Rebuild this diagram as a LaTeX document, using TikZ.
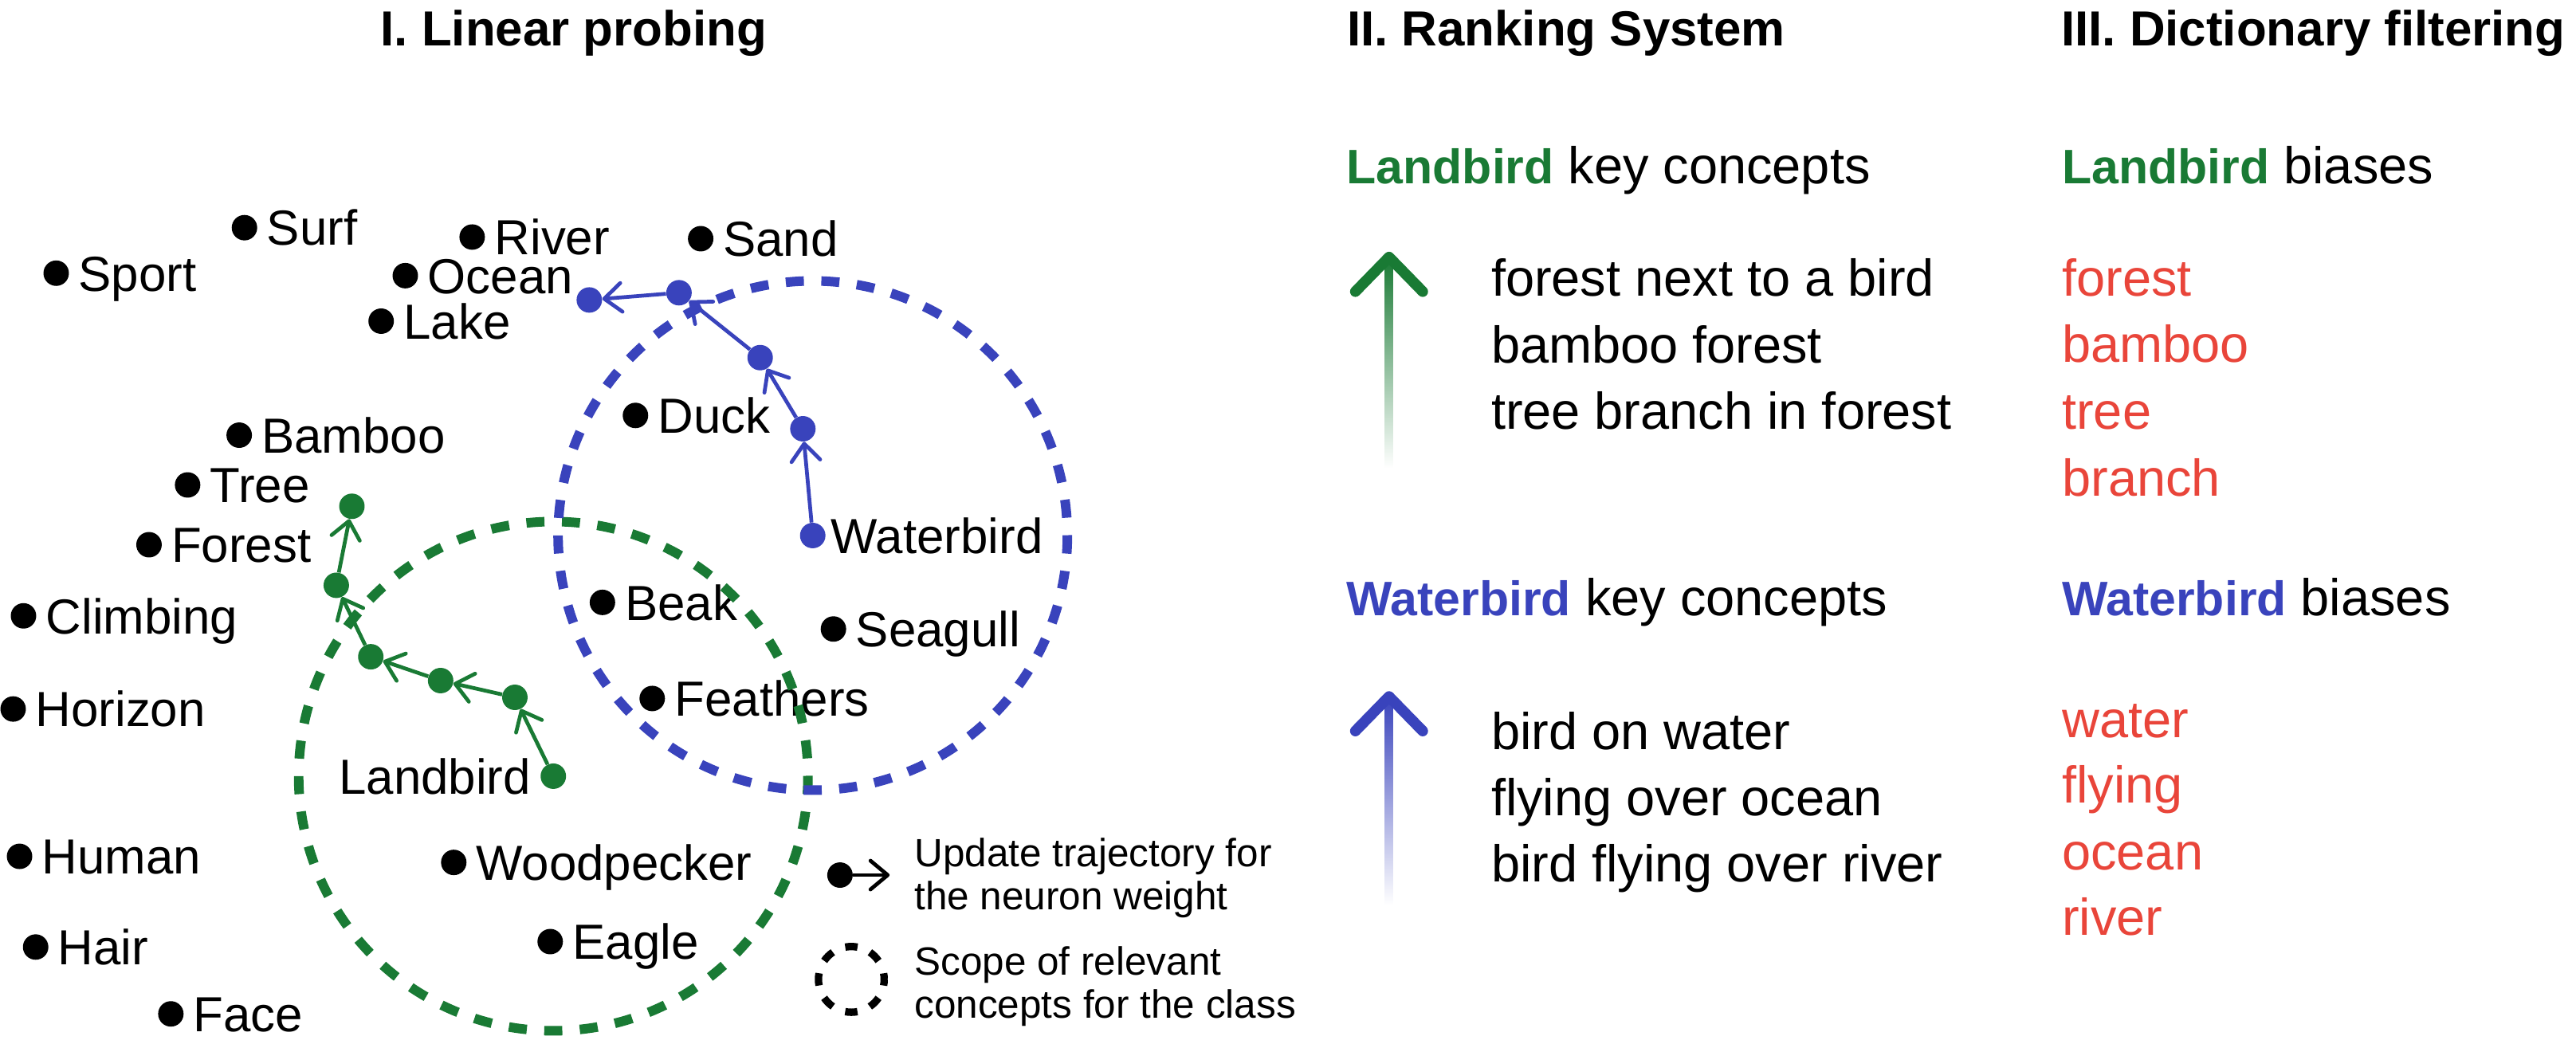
\documentclass[tikz,border=0pt]{standalone}
\usepackage{fontspec}
\setmainfont{Liberation Sans}
\usetikzlibrary{arrows.meta,calc}
\definecolor{lgreen}{RGB}{25,122,52}
\definecolor{wblue}{RGB}{57,67,188}
\definecolor{bred}{RGB}{233,69,58}
\newcommand\bl[2]{{\fontsize{29.5}{36}\selectfont\bfseries\color{#1}#2}}
\newcommand\concept[4]{%
  \node[dot] (#1) at (#2,#3) {};
  \node[lbl] (#1-l) at ([xshift=13.5pt,yshift=-10.8pt]#1.center) {#4};}
\begin{document}
\begin{tikzpicture}[x=1pt,y=-1pt,
  dot/.style={circle,fill=black,inner sep=0pt,minimum size=15.5pt},
  gdot/.style={dot,fill=lgreen},
  bdot/.style={dot,fill=wblue},
  lbl/.style={anchor=base west,inner sep=0pt,font=\fontsize{30}{36}\selectfont},
  ttl/.style={anchor=base west,inner sep=0pt,font=\fontsize{30}{36}\selectfont\bfseries},
  txt/.style={anchor=base west,inner sep=0pt,font=\fontsize{31.5}{38}\selectfont},
  legtxt/.style={anchor=base west,inner sep=0pt,font=\fontsize{24}{28}\selectfont},
  traj/.style={line width=2.3pt,-{Straight Barb[length=10.5pt,width=17.5pt,round]}},
  scopecirc/.style={line width=5.8pt,dash pattern=on 11pt off 10.64pt},
  headline/.style={line width=6.5pt,line cap=round,line join=round},
]
\useasboundingbox[fill=white] (0,0) rectangle (1568,635.5);

% titles
\node[ttl] (t1) at (231.5,27.8) {I. Linear probing};
\node[ttl] (t2) at (819.7,27.8) {II. Ranking System};
\node[ttl] (t3) at (1254.5,27.8) {III. Dictionary filtering};

% concepts
\concept{sport}{34.2}{166.3}{Sport}
\concept{surf}{148.8}{138.6}{Surf}
\concept{river}{287.4}{144.3}{River}
\concept{ocean}{246.7}{167.8}{Ocean}
\concept{lake}{232}{195.5}{Lake}
\concept{sand}{426.5}{145.3}{Sand}
\concept{duck}{386.8}{252.9}{Duck}
\concept{bamboo}{145.6}{264.9}{Bamboo}
\concept{tree}{114.2}{295.2}{Tree}
\concept{forest}{90.7}{331.6}{Forest}
\concept{climbing}{14.3}{374.9}{Climbing}
\concept{horizon}{8}{431.6}{Horizon}
\concept{beak}{366.7}{366.7}{Beak}
\concept{seagull}{507.3}{382.9}{Seagull}
\concept{feathers}{397}{425.2}{Feathers}
\concept{human}{11.9}{521.3}{Human}
\concept{woodpecker}{276.2}{525}{Woodpecker}
\concept{hair}{21.7}{576.5}{Hair}
\concept{eagle}{334.9}{573.2}{Eagle}
\concept{face}{104}{617.2}{Face}

% trajectory dots
\node[bdot] (w0) at (494.7,326) {};
\node[bdot] (w1) at (488.7,261) {};
\node[bdot] (w2) at (462.7,217.7) {};
\node[bdot] (w3) at (413.3,178.2) {};
\node[bdot] (w4) at (358.7,182.6) {};
\node[lbl] (wl) at ([xshift=11pt,yshift=-10.8pt]w0.center) {Waterbird};

\node[gdot] (l0) at (336.8,472.5) {};
\node[gdot] (l1) at (313.4,424.5) {};
\node[gdot] (l2) at (268.2,414.3) {};
\node[gdot] (l3) at (225.7,399.8) {};
\node[gdot] (l4) at (204.7,356.3) {};
\node[gdot] (l5) at (214.2,308.2) {};
\node[lbl,anchor=base east] (ll) at ([xshift=-13.5pt,yshift=-10.8pt]l0.center) {Landbird};

% scope circles
\draw[lgreen,scopecirc] (l0.center) circle[radius=155];
\draw[wblue,scopecirc] (w0.center) circle[radius=155];

% trajectories
\draw[wblue,traj] (w0) -- (w1);
\draw[wblue,traj] (w1) -- (w2);
\draw[wblue,traj] (w2) -- (w3);
\draw[wblue,traj] (w3) -- (w4);
\draw[lgreen,traj] (l0) -- (l1);
\draw[lgreen,traj] (l1) -- (l2);
\draw[lgreen,traj] (l2) -- (l3);
\draw[lgreen,traj] (l3) -- (l4);
\draw[lgreen,traj] (l4) -- (l5);

% legend
\node[dot] (legdot) at (511.3,532.7) {};
\coordinate (legtip) at (541.5,532.7);
\draw[traj] (legdot) -- (legtip);
\node[legtxt] (leg1) at (556.5,527.8) {Update trajectory for};
\node[legtxt] (leg2) at (556.5,553.7) {the neuron weight};
\draw[line width=4.5pt,dash pattern=on 7.5pt off 8.208pt,dash phase=3.75pt] (518.2,596.2) circle[radius=20];
\node[legtxt] (leg3) at (556.5,593.8) {Scope of relevant};
\node[legtxt] (leg4) at (556.5,619.8) {concepts for the class};

% II. ranking system
\node[txt] (lkc) at (819.5,111.6) {\bl{lgreen}{Landbird} key concepts};
\shade[top color=lgreen,bottom color=white] (843,157) rectangle (848,285);
\draw[lgreen,headline] (825,177.5) -- (845.5,156.5) -- (866,177.5);
\node[txt] (lc1) at (907.5,180.3) {forest next to a bird};
\node[txt] (lc2) at (907.5,220.8) {bamboo forest};
\node[txt] (lc3) at (907.5,261.2) {tree branch in forest};

\node[txt] (wkc) at (819.5,374.9) {\bl{wblue}{Waterbird} key concepts};
\shade[top color=wblue,bottom color=white] (843,424) rectangle (848,551);
\draw[wblue,headline] (825,445) -- (845.5,424) -- (866,445);
\node[txt] (wc1) at (907.5,456.1) {bird on water};
\node[txt] (wc2) at (907.5,496.5) {flying over ocean};
\node[txt] (wc3) at (907.5,537) {bird flying over river};

% III. dictionary filtering
\node[txt] (lb) at (1255,111.8) {\bl{lgreen}{Landbird} biases};
\node[txt,text=bred] (lb1) at (1255,180) {forest};
\node[txt,text=bred] (lb2) at (1255,220.7) {bamboo};
\node[txt,text=bred] (lb3) at (1255,261.3) {tree};
\node[txt,text=bred] (lb4) at (1255,301.9) {branch};

\node[txt] (wb) at (1255,375) {\bl{wblue}{Waterbird} biases};
\node[txt,text=bred] (wb1) at (1255,448.8) {water};
\node[txt,text=bred] (wb2) at (1255,488.7) {flying};
\node[txt,text=bred] (wb3) at (1255,529.4) {ocean};
\node[txt,text=bred] (wb4) at (1255,569.3) {river};
\end{tikzpicture}
\end{document}
